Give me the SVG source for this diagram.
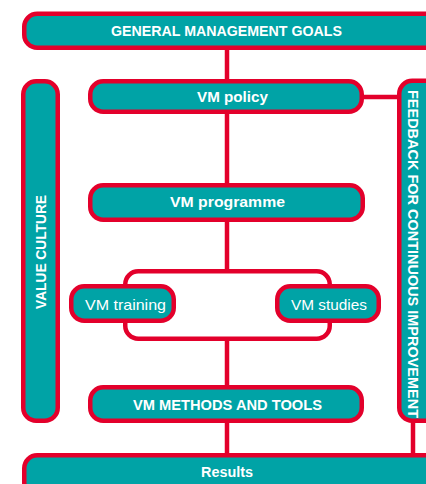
<svg xmlns="http://www.w3.org/2000/svg" width="426" height="484" viewBox="0 0 426 484">
  <style>
    .box { fill: #00A3A6; stroke: #E3002B; stroke-width: 4.5; }
    .frame { fill: none; stroke: #E3002B; stroke-width: 4.5; }
    .link { stroke: #E3002B; stroke-width: 4.5; fill: none; }
    .lbl { fill: #FFFFFF; font-family: "Liberation Sans", Arial, sans-serif; font-weight: bold; font-size: 14px; text-anchor: middle; dominant-baseline: central; }
    .lbl-n { font-weight: normal; font-size: 15px; }
  </style>
  <rect width="426" height="484" fill="#FFFFFF"/>

  <!-- connectors -->
  <g id="connectors">
    <line class="link" x1="227" y1="50" x2="227" y2="80"/>
    <line class="link" x1="227" y1="112" x2="227" y2="184"/>
    <line class="link" x1="227" y1="220" x2="227" y2="271"/>
    <line class="link" x1="227" y1="339" x2="227" y2="387"/>
    <line class="link" x1="227" y1="421" x2="227" y2="455"/>
    <line class="link" x1="362" y1="97" x2="399" y2="97"/>
    <line class="link" x1="413" y1="421" x2="413" y2="455"/>
    <rect class="frame" x="125.25" y="271.25" width="204.5" height="67.5" rx="13"/>
  </g>

  <g id="general-management-goals">
    <rect class="box" x="24.25" y="13.75" width="420" height="34" rx="13"/>
    <text class="lbl" x="226.5" y="31" textLength="231" lengthAdjust="spacingAndGlyphs">GENERAL MANAGEMENT GOALS</text>
  </g>

  <g id="value-culture">
    <rect class="box" x="23.25" y="81.25" width="34.5" height="339.5" rx="13"/>
    <text class="lbl" transform="translate(41 252) rotate(-90)" textLength="114" lengthAdjust="spacingAndGlyphs">VALUE CULTURE</text>
  </g>

  <g id="feedback">
    <rect class="box" x="399.25" y="80.75" width="40" height="340" rx="13"/>
    <text class="lbl" transform="translate(413 254) rotate(90)" textLength="328" lengthAdjust="spacingAndGlyphs">FEEDBACK FOR CONTINUOUS IMPROVEMENT</text>
  </g>

  <g id="vm-policy">
    <rect class="box" x="90.25" y="81.25" width="271.5" height="30.5" rx="13"/>
    <text class="lbl" x="232.5" y="96.5" textLength="71" lengthAdjust="spacingAndGlyphs">VM policy</text>
  </g>

  <g id="vm-programme">
    <rect class="box" x="90.25" y="185.25" width="272.5" height="34.5" rx="13"/>
    <text class="lbl" x="227.5" y="202" textLength="115" lengthAdjust="spacingAndGlyphs">VM programme</text>
  </g>

  <g id="vm-training">
    <rect class="box" x="71.25" y="286.25" width="102.5" height="34.5" rx="13"/>
    <text class="lbl lbl-n" x="125.5" y="304" textLength="81" lengthAdjust="spacingAndGlyphs">VM training</text>
  </g>

  <g id="vm-studies">
    <rect class="box" x="277.25" y="286.25" width="101.5" height="34.5" rx="13"/>
    <text class="lbl lbl-n" x="329" y="304" textLength="76" lengthAdjust="spacingAndGlyphs">VM studies</text>
  </g>

  <g id="vm-methods-and-tools">
    <rect class="box" x="90.25" y="387.25" width="271.5" height="33.5" rx="13"/>
    <text class="lbl" x="227.5" y="404.5" textLength="189" lengthAdjust="spacingAndGlyphs">VM METHODS AND TOOLS</text>
  </g>

  <g id="results">
    <rect class="box" x="24.25" y="455.25" width="420" height="40" rx="13"/>
    <text class="lbl" x="227" y="471.5" textLength="52" lengthAdjust="spacingAndGlyphs">Results</text>
  </g>
</svg>
